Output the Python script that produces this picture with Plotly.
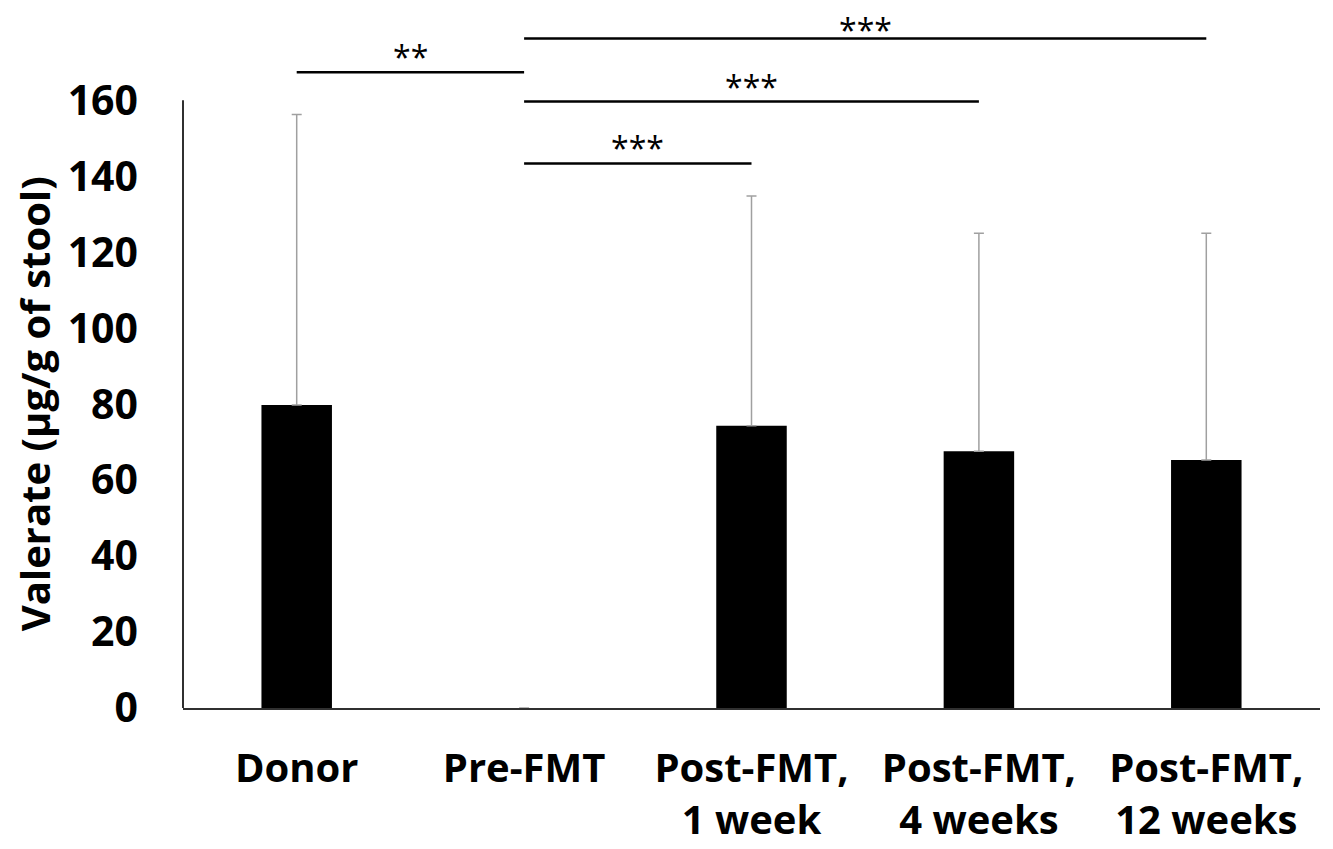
import plotly.graph_objects as go

categories = ["Donor", "Pre-FMT", "Post-FMT, 1 week", "Post-FMT, 4 weeks", "Post-FMT, 12 weeks"]
tick_labels = ["Donor", "Pre-FMT", "Post-FMT,<br>1 week", "Post-FMT,<br>4 weeks", "Post-FMT,<br>12 weeks"]
values = [79.8, 0, 74.3, 67.6, 65.3]
err_upper = [76.5, 0, 60.5, 57.4, 59.7]
y_ticks = [0, 20, 40, 60, 80, 100, 120, 140, 160]

# significance brackets: (from index, to index, level, label)
sig_from = [0, 1, 1, 1]
sig_to = [1, 4, 3, 2]
sig_level = [167.4, 176.3, 159.7, 143.4]
sig_label = ["**", "***", "***", "***"]

FONT = "Open Sans"

fig = go.Figure()
fig.add_trace(go.Bar(
    x=categories, y=values, width=0.31,
    marker=dict(color="black", line=dict(width=0)),
    error_y=dict(type="data", symmetric=False, array=err_upper,
                 arrayminus=[0] * len(values), color="#a0a0a0",
                 thickness=1.5, width=5),
    showlegend=False,
))

shapes = []
annotations = []
top_level = max(sig_level)
for a, b, lvl, lab in zip(sig_from, sig_to, sig_level, sig_label):
    shapes.append(dict(type="line", xref="x", yref="y", x0=a, x1=b, y0=lvl, y1=lvl,
                       line=dict(color="black", width=2.5)))
    # the topmost label is nudged slightly down to stay inside the page
    ys = -15 if lvl == top_level else -8
    annotations.append(dict(xref="x", yref="y", x=(a + b) / 2, y=lvl, text=lab,
                            showarrow=False, yanchor="bottom", yshift=ys,
                            font=dict(family=FONT, size=32, color="black")))

# y axis line from 0 to 160
shapes.append(dict(type="line", xref="paper", yref="y", x0=0, x1=0, y0=0, y1=y_ticks[-1],
                   line=dict(color="#303030", width=2)))

annotations.append(dict(xref="paper", yref="y", x=-0.131, y=80, text="Valerate (µg/g of stool)",
                        textangle=-90, showarrow=False, xanchor="center", yanchor="middle",
                        font=dict(family=FONT, size=40, color="black", weight="bold")))

fig.update_layout(
    width=1325, height=841,
    margin=dict(l=175, r=13, t=24, b=141, autoexpand=False),
    paper_bgcolor="white", plot_bgcolor="white",
    shapes=shapes, annotations=annotations,
    xaxis=dict(
        type="category", range=[-0.5, 4.5], automargin=False,
        tickvals=categories, ticktext=tick_labels,
        showline=True, linecolor="#303030", linewidth=2,
        showgrid=False, zeroline=False, ticks="",
        tickfont=dict(family=FONT, size=40, color="black", weight="bold"),
        ticklabelstandoff=24,
    ),
    yaxis=dict(
        range=[0, 178], tickvals=y_ticks, automargin=False,
        showline=False, showgrid=False, zeroline=False, ticks="",
        tickfont=dict(family=FONT, size=41, color="black", weight="bold"),
        ticklabelstandoff=44,
    ),
)

fig.write_html("out.html")
